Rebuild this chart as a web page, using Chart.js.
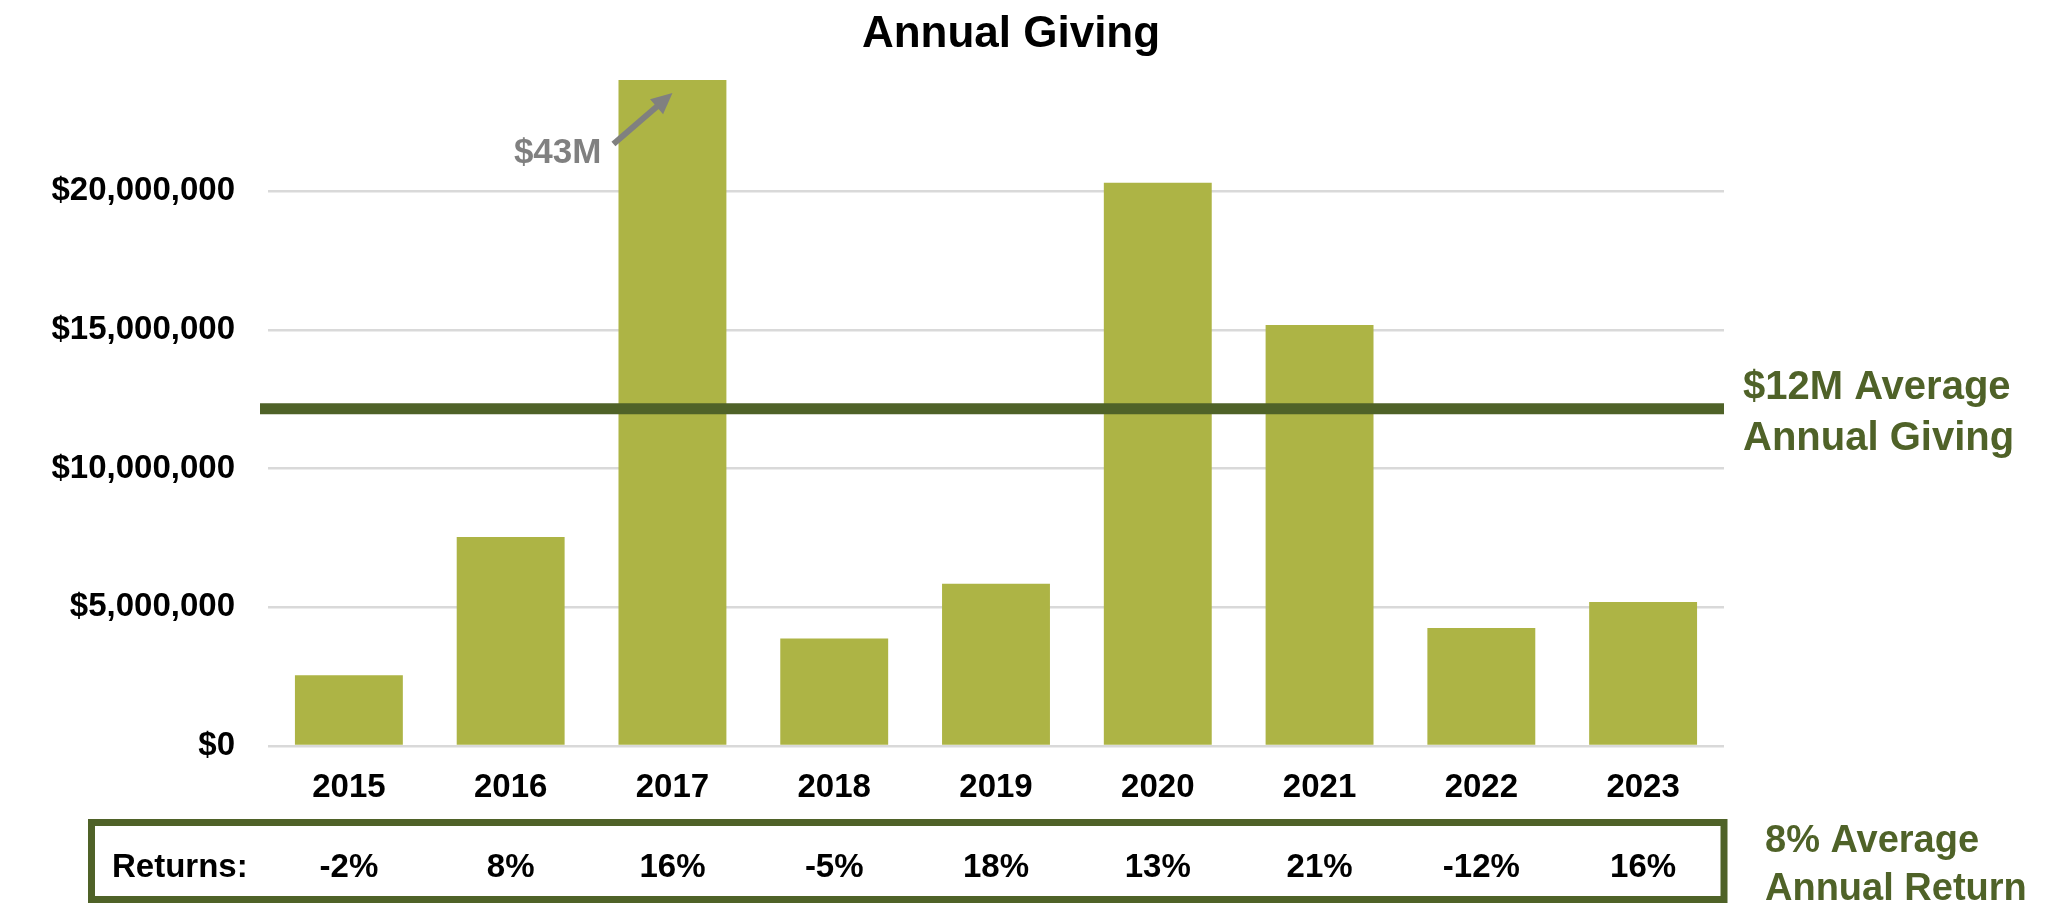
<!DOCTYPE html>
<html>
<head>
<meta charset="utf-8">
<title>Annual Giving</title>
<script src="https://cdn.jsdelivr.net/npm/chart.js@4/dist/chart.umd.min.js"></script>
<style>
  html, body { margin: 0; padding: 0; background: #fff; }
  #wrap { width: 2048px; height: 912px; }
</style>
</head>
<body>
<div id="wrap"><canvas id="canvas" width="2048" height="912"></canvas></div>
<script>
// values
const years = ["2015", "2016", "2017", "2018", "2019", "2020", "2021", "2022", "2023"];
const giving = [2550000, 7530000, 43000000, 3870000, 5850000, 20300000, 15170000, 4250000, 5190000];
const returns = [-2, 8, 16, -5, 18, 13, 21, -12, 16];
const avgGiving = 12150000;
const avgReturn = 8;
const yTicks = [0, 5000000, 10000000, 15000000, 20000000];
const yMax = 24000000;

const BAR = "#ADB445";
const DARK = "#4F6228";
const FONT = "'Liberation Sans', Arial, sans-serif";

const extras = {
  id: "extras",
  afterDatasetsDraw(chart) {
    const ctx = chart.ctx;
    const area = chart.chartArea;
    const x = chart.scales.x;
    const y = chart.scales.y;

    // average giving line
    const ya = y.getPixelForValue(avgGiving);
    ctx.save();
    ctx.strokeStyle = DARK;
    ctx.lineWidth = 11;
    ctx.beginPath();
    ctx.moveTo(area.left - 8, ya);
    ctx.lineTo(area.right, ya);
    ctx.stroke();

    // arrow + label for the bar that runs off the top
    const big = giving.indexOf(Math.max(...giving));
    const tipX = x.getPixelForValue(big);
    const tipY = area.top + 13;
    const sx = tipX - 59, sy = tipY + 51;
    const ang = Math.atan2(tipY - sy, tipX - sx);
    const c = Math.cos(ang), s = Math.sin(ang);
    ctx.strokeStyle = "#808080";
    ctx.fillStyle = "#808080";
    ctx.lineWidth = 6;
    ctx.beginPath();
    ctx.moveTo(sx, sy);
    ctx.lineTo(tipX - 14 * c, tipY - 14 * s);
    ctx.stroke();
    ctx.beginPath();
    ctx.moveTo(tipX, tipY);
    ctx.lineTo(tipX - 21 * c + 10 * s, tipY - 21 * s - 10 * c);
    ctx.lineTo(tipX - 21 * c - 10 * s, tipY - 21 * s + 10 * c);
    ctx.closePath();
    ctx.fill();
    ctx.font = "bold 35px " + FONT;
    ctx.textAlign = "right";
    ctx.textBaseline = "alphabetic";
    ctx.fillText("$" + Math.round(giving[big] / 1e6) + "M", sx - 12, sy + 19);
    ctx.restore();
  },
  afterDraw(chart) {
    const ctx = chart.ctx;
    const area = chart.chartArea;
    const x = chart.scales.x;
    const y = chart.scales.y;
    ctx.save();

    // title
    ctx.fillStyle = "#000";
    ctx.font = "bold 44px " + FONT;
    ctx.textAlign = "center";
    ctx.textBaseline = "alphabetic";
    ctx.fillText("Annual Giving", 1011, 47);

    // average giving label
    const ya = y.getPixelForValue(avgGiving);
    ctx.fillStyle = DARK;
    ctx.font = "bold 40px " + FONT;
    ctx.textAlign = "left";
    ctx.fillText("$" + Math.round(avgGiving / 1e6) + "M Average", area.right + 19, ya - 10);
    ctx.fillText("Annual Giving", area.right + 19, ya + 41);

    // returns table
    ctx.strokeStyle = DARK;
    ctx.lineWidth = 7;
    ctx.strokeRect(91.5, 822.5, area.right - 91.5, 77);
    ctx.fillStyle = "#000";
    ctx.font = "bold 33px " + FONT;
    ctx.textAlign = "left";
    ctx.fillText("Returns:", 112, 877);
    ctx.textAlign = "center";
    returns.forEach((r, i) => {
      ctx.fillText(r + "%", x.getPixelForValue(i), 877);
    });

    ctx.fillStyle = DARK;
    ctx.font = "bold 38px " + FONT;
    ctx.textAlign = "left";
    ctx.fillText(avgReturn + "% Average", area.right + 41, 852);
    ctx.fillText("Annual Return", area.right + 41, 900);
    ctx.restore();
  }
};

new Chart(document.getElementById("canvas"), {
  type: "bar",
  data: {
    labels: years,
    datasets: [{
      data: giving,
      backgroundColor: BAR,
      borderWidth: 0,
      categoryPercentage: 1,
      barPercentage: 0.667
    }]
  },
  options: {
    responsive: false,
    animation: false,
    devicePixelRatio: 1,
    layout: { padding: { top: 80, right: 324, left: 0, bottom: 0 } },
    plugins: {
      legend: { display: false },
      tooltip: { enabled: false },
      title: { display: false }
    },
    scales: {
      x: {
        grid: { display: false, drawTicks: false },
        border: { display: false },
        ticks: { color: "#000", font: { family: FONT, size: 33, weight: "bold" }, padding: 22 },
        afterFit(scale) { scale.height = 166; }
      },
      y: {
        min: 0,
        max: yMax,
        grid: { color: "#D9D9D9", lineWidth: 2.5, drawTicks: false },
        border: { display: false },
        ticks: {
          color: "#000",
          padding: 33,
          font: { family: FONT, size: 33, weight: "bold" },
          callback: v => "$" + v.toLocaleString("en-US")
        },
        afterBuildTicks(scale) { scale.ticks = yTicks.map(v => ({ value: v })); },
        afterFit(scale) { scale.width = 268; }
      }
    }
  },
  plugins: [extras]
});
</script>
</body>
</html>
